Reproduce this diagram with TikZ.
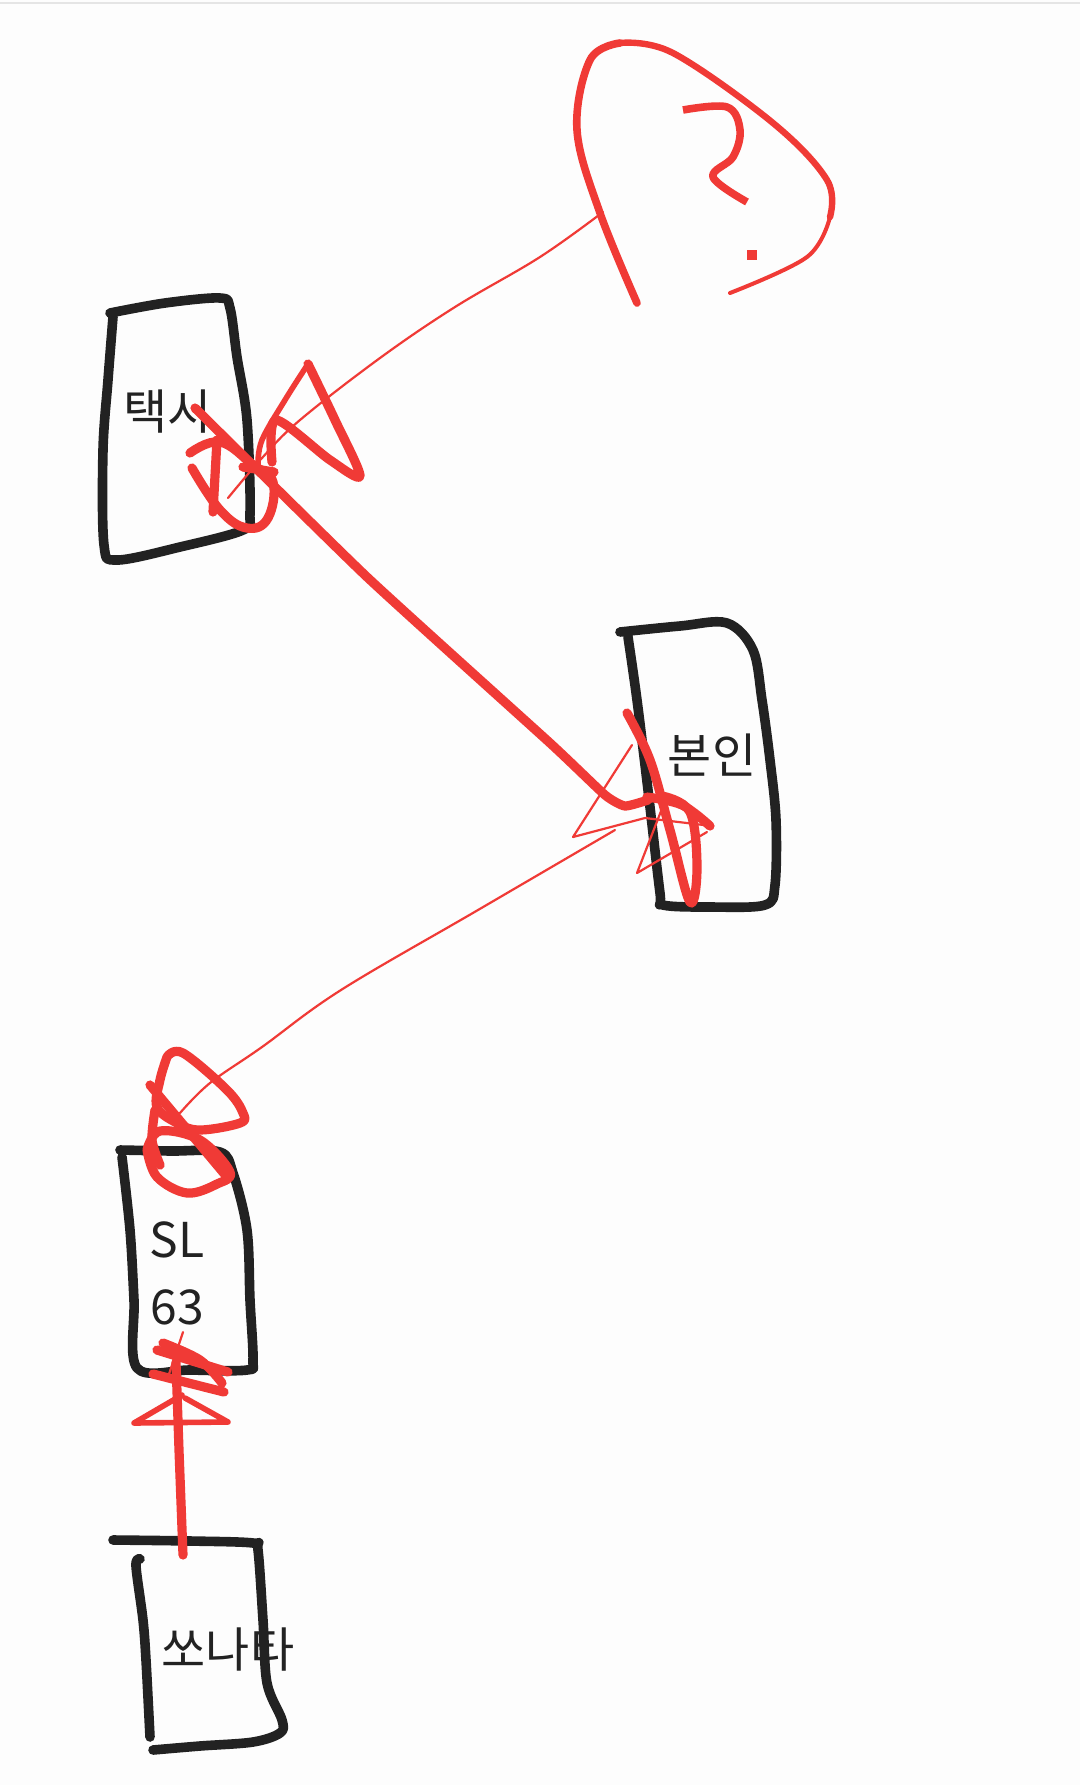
\documentclass[tikz,border=0pt]{standalone}
\usepackage{fontspec}
\setmainfont{Noto Sans CJK KR}
\definecolor{pen}{HTML}{F03A36}
\definecolor{ink}{HTML}{222222}
\definecolor{paper}{HTML}{FDFDFD}
\begin{document}
\begin{tikzpicture}[x=0.5pt,y=-0.5pt,
  boxline/.style={draw=ink,line width=4.8pt,line cap=round,line join=round},
  thickred/.style={draw=pen,line width=4.6pt,line cap=round,line join=round},
  thinred/.style={draw=pen,line width=1.1pt,line cap=round,line join=round},
  midred/.style={draw=pen,line width=2.8pt,line cap=round,line join=round},
  lbl/.style={text=ink,font=\fontsize{24}{28}\selectfont,inner sep=0pt}]
\useasboundingbox (0,0) rectangle (1080,1785);
\fill[paper] (0,0) rectangle (1080,1785);
\draw[black!10,line width=0.8pt] (0,3) -- (1080,3);

% boxes
\draw[boxline] plot[smooth,tension=0.55] coordinates {(110,313) (165,303) (220,298) (230,308) (237,357) (247,420) (250,513) (243,530) (180,547) (117,560) (104,545) (103,450) (108,380) (113,317)};
\draw[boxline] plot[smooth,tension=0.55] coordinates {(620,632) (680,626) (727,623) (753,650) (762,700) (770,760) (776,820) (775,885) (765,905) (710,907) (663,905) (660,893) (648,790) (637,700) (628,637)};
\draw[boxline] plot[smooth,tension=0.55] coordinates {(120,1150) (170,1151) (220,1152) (233,1173) (247,1230) (250,1300) (253,1360) (247,1370) (190,1370) (137,1368) (134,1300) (130,1230) (122,1157)};
\draw[boxline] plot[smooth,tension=0.55] coordinates {(113,1540) (190,1541) (253,1543) (258,1550) (263,1620) (267,1683) (282,1720) (280,1733) (253,1742) (200,1746) (153,1750)};
\draw[boxline] plot[smooth,tension=0.55] coordinates {(150,1737) (146,1660) (143,1620) (136,1566) (140,1559)};

% labels
\node[lbl] (taxi) at (168,412) {택시};
\node[lbl] (self) at (712,755) {본인};
\node[lbl] (sl) at (177,1240) {SL};
\node[lbl] (n63) at (177,1307) {63};
\node[lbl] (sonata) at (228,1650) {쏘나타};

% question bubble
\draw[thickred,line width=3.8pt] plot[smooth,tension=0.6] coordinates {(637,303) (600,213) (577,130) (590,60) (620,43)};
\draw[midred,line width=3.2pt] plot[smooth,tension=0.6] coordinates {(620,43) (673,53) (773,123) (827,180) (830,217)};
\draw[midred,line width=2pt] plot[smooth,tension=0.6] coordinates {(830,217) (807,257) (730,293)};
\draw[thickred,line width=3.8pt,line cap=butt] plot[smooth,tension=0.6] coordinates {(683,110) (727,107) (740,130) (733,157) (713,177) (747,202)};
\fill[pen] (752,255) ++(-5,-5) rectangle ++(10,10);
\node[inner sep=0pt] (qmark) at (715,160) {};

% thin connector bubble -> taxi
\coordinate (bubfoot) at (603,212);
\coordinate (taxiend) at (228,498);
\draw[thinred] plot[smooth,tension=0.6] coordinates {(bubfoot) (540,257) (455,307) (380,358) (300,420) (262,458) (taxiend)};

% taxi arrowhead cluster
\draw[thickred] plot[smooth,tension=0.5] coordinates {(308,364) (335,420) (360,476) (330,460) (276,420) (272,462)};
\draw[midred] plot[smooth,tension=0.6] coordinates {(308,364) (285,400) (262,440) (258,465)};
\draw[thickred] plot[smooth,tension=0.7] coordinates {(190,453) (220,442) (253,465) (273,482) (268,518) (247,528) (220,510) (192,468)};
\draw[thickred] (217,440) -- (213,512);
\draw[thickred] (243,467) -- (274,472);

% main thick connector taxi -> self
\draw[thickred] plot[smooth,tension=0.3] coordinates {(195,408) (367,577) (550,743) (605,795) (625,806) (648,800)};

% self arrowhead cluster
\draw[thinred] plot coordinates {(632,745) (573,837) (645,818) (712,826)};
\draw[thinred] plot coordinates {(663,806) (637,873) (707,832)};
\draw[thickred] plot[smooth,tension=0.6] coordinates {(627,713) (650,760) (670,830) (690,902) (697,868) (690,812) (662,796)};
\draw[thickred] plot[smooth,tension=0.6] coordinates {(647,797) (682,805) (710,826)};

% thin connector self -> SL63
\draw[thinred] plot[smooth,tension=0.6] coordinates {(615,830) (478,910) (341,990) (262,1047) (210,1083) (180,1113)};

% SL63 top cluster
\draw[thickred] plot[smooth,tension=0.6] coordinates {(167,1057) (183,1053) (227,1090) (243,1113) (240,1123) (200,1130) (177,1123) (157,1107) (160,1080) (167,1057)};
\draw[thickred] plot[smooth,tension=0.6] coordinates {(147,1150) (160,1131) (200,1140) (230,1172) (217,1184) (187,1193) (157,1177) (147,1150)};
\draw[thickred] (150,1085) -- (227,1177);
\draw[thickred] plot[smooth] coordinates {(155,1110) (152,1140) (160,1165)};

% SL63 bottom cluster
\draw[thinred] (183,1332) -- (167,1380);
\draw[thickred] (157,1350) -- (228,1372);
\draw[thickred] (153,1374) -- (224,1392);
\draw[thickred] plot[smooth,tension=0.6] coordinates {(163,1343) (200,1360) (222,1383)};
\draw[midred] plot coordinates {(182,1395) (134,1423) (228,1422) (185,1398)};

% vertical connector SL63 <- sonata
\draw[thickred] (176,1362) -- (179,1450) -- (183,1555);
\end{tikzpicture}
\end{document}
